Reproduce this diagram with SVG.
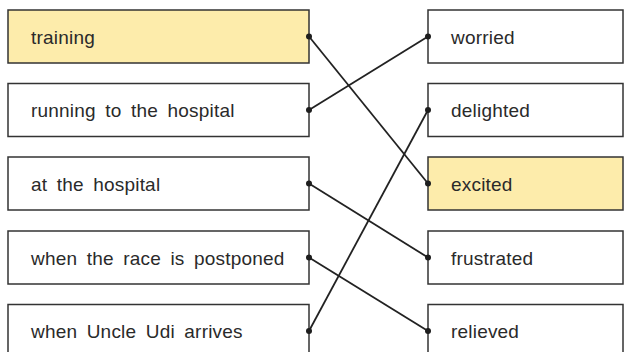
<svg xmlns="http://www.w3.org/2000/svg" width="624" height="352" viewBox="0 0 624 352">
<style>
.box{fill:#ffffff;stroke:#333333;stroke-width:1.5}
.hl{fill:#fdecab}
.t{font-family:"Liberation Sans",Arial,sans-serif;font-size:19px;fill:#2a2a2a;word-spacing:4px;letter-spacing:0.2px}
.c{stroke:#222222;stroke-width:1.8;fill:none}
.d{fill:#1e1e1e}
</style>
<rect width="624" height="352" fill="#ffffff"/>
<g id="left-training"><rect class="box hl" x="8" y="10" width="301" height="53"/><text class="t" x="31" y="43.5">training</text></g>
<g id="left-running"><rect class="box" x="8" y="83.5" width="301" height="53"/><text class="t" x="31" y="117">running to the hospital</text></g>
<g id="left-at"><rect class="box" x="8" y="157" width="301" height="53"/><text class="t" x="31" y="190.5">at the hospital</text></g>
<g id="left-postponed"><rect class="box" x="8" y="231" width="301" height="53"/><text class="t" x="31" y="264.5">when the race is postponed</text></g>
<g id="left-udi"><rect class="box" x="8" y="304.5" width="301" height="53"/><text class="t" x="31" y="338">when Uncle Udi arrives</text></g>
<g id="right-worried"><rect class="box" x="428" y="10" width="195" height="53"/><text class="t" x="451" y="43.5">worried</text></g>
<g id="right-delighted"><rect class="box" x="428" y="83.5" width="195" height="53"/><text class="t" x="451" y="117">delighted</text></g>
<g id="right-excited"><rect class="box hl" x="428" y="157" width="195" height="53"/><text class="t" x="451" y="190.5">excited</text></g>
<g id="right-frustrated"><rect class="box" x="428" y="231" width="195" height="53"/><text class="t" x="451" y="264.5">frustrated</text></g>
<g id="right-relieved"><rect class="box" x="428" y="304.5" width="195" height="53"/><text class="t" x="451" y="338">relieved</text></g>
<g id="connectors">
<line class="c" x1="309" y1="36.5" x2="428" y2="183.5"/>
<line class="c" x1="309" y1="110" x2="428" y2="36.5"/>
<line class="c" x1="309" y1="183.5" x2="428" y2="257.5"/>
<line class="c" x1="309" y1="257.5" x2="428" y2="331"/>
<line class="c" x1="309" y1="331" x2="428" y2="110"/>
<circle class="d" cx="309" cy="36.5" r="3"/>
<circle class="d" cx="309" cy="110" r="3"/>
<circle class="d" cx="309" cy="183.5" r="3"/>
<circle class="d" cx="309" cy="257.5" r="3"/>
<circle class="d" cx="309" cy="331" r="3"/>
<circle class="d" cx="428" cy="36.5" r="3"/>
<circle class="d" cx="428" cy="110" r="3"/>
<circle class="d" cx="428" cy="183.5" r="3"/>
<circle class="d" cx="428" cy="257.5" r="3"/>
<circle class="d" cx="428" cy="331" r="3"/>
</g>
</svg>
